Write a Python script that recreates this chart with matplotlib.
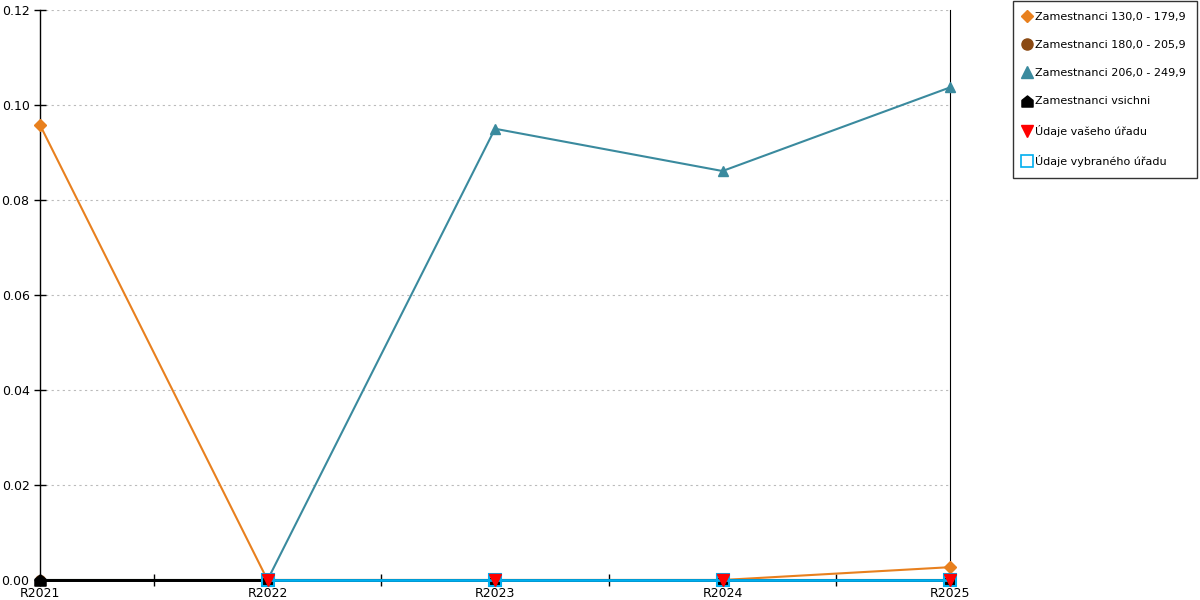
import matplotlib
matplotlib.use("Agg")
import matplotlib.pyplot as plt
from matplotlib.path import Path
from matplotlib.lines import Line2D
import numpy as np

years = ["R2021", "R2022", "R2023", "R2024", "R2025"]
s130 = [0.0958, 0.0, 0.0, 0.0, 0.0027]
s180 = [0.0, 0.0, 0.0, 0.0, 0.0]
s206 = [0.0, 0.0, 0.0950, 0.0861, 0.1037]
vsichni = [0.0, 0.0, 0.0, 0.0, 0.0]
vaseho = [None, 0.0, 0.0, 0.0, 0.0]
vybraneho = [None, 0.0, 0.0, 0.0, 0.0]

labels = ["Zamestnanci 130,0 - 179,9", "Zamestnanci 180,0 - 205,9",
          "Zamestnanci 206,0 - 249,9", "Zamestnanci vsichni",
          "Údaje vašeho úřadu", "Údaje vybraného úřadu"]

plt.rcParams['font.family'] = ['DejaVu Sans']
fig = plt.figure(figsize=(12, 6), dpi=100)
ax = fig.add_axes([40/1200, 20/600, 910/1200, 570/600])

x = np.arange(len(years))
house = Path([(-1, -1), (1, -1), (1, 0.2), (0, 1), (-1, 0.2), (-1, -1)],
             [Path.MOVETO, Path.LINETO, Path.LINETO, Path.LINETO, Path.LINETO, Path.CLOSEPOLY])

def arr(v):
    return np.array([np.nan if a is None else a for a in v], dtype=float)

ax.plot(x, arr(s130), color="#E8801E", lw=1.5, marker="D", ms=6, label=labels[0], zorder=3)
ax.plot(x, arr(s180), color="#8B4A14", lw=1.5, marker="o", ms=7, label=labels[1], zorder=2)
ax.plot(x, arr(s206), color="#3A8A9E", lw=1.5, marker="^", ms=7, label=labels[2], zorder=4)
ax.plot(x, arr(vsichni), color="black", lw=2, marker=house, ms=8, label=labels[3], zorder=5)
ax.plot(x, arr(vybraneho), color="#00AEEF", lw=2, marker="s", ms=9, mfc="none", mew=1.5,
        label=labels[5], zorder=6)
ax.plot(x, arr(vaseho), color="red", lw=0, marker="v", ms=8, label=labels[4], zorder=7)

ax.set_xlim(0, 4)
ax.set_ylim(0, 0.12)
yt = np.arange(0, 0.121, 0.02)
ax.set_yticks(yt)
ax.set_yticklabels([f"{v:.2f}" for v in yt])
ax.set_xticks(x)
ax.set_xticklabels(years)
ax.set_xticks(x[:-1] + 0.5, minor=True)
ax.tick_params(axis='both', direction='inout', length=8, width=1, labelsize=9, colors='black')
ax.tick_params(axis='x', which='minor', direction='inout', length=8, width=1)
ax.tick_params(axis='x', pad=1)
ax.yaxis.grid(True, linestyle=(0, (2, 3)), color="#BBBBBB", lw=0.8)
ax.spines["top"].set_visible(False)
ax.spines["right"].set_color("black")
ax.spines["left"].set_linewidth(1)
ax.spines["bottom"].set_linewidth(2)
ax.spines["bottom"].set_zorder(4.5)
for l in ax.lines:
    l.set_clip_on(False)

hmap = {
    labels[0]: Line2D([], [], color="#E8801E", marker="D", ms=6, lw=0),
    labels[1]: Line2D([], [], color="#8B4A14", marker="o", ms=8, lw=0),
    labels[2]: Line2D([], [], color="#3A8A9E", marker="^", ms=8, lw=0),
    labels[3]: Line2D([], [], color="black", marker=house, ms=8, lw=0),
    labels[4]: Line2D([], [], color="red", marker="v", ms=9, lw=0),
    labels[5]: Line2D([], [], color="#00AEEF", marker="s", ms=9, mfc="none", mew=1.2, lw=0),
}
leg = fig.legend([hmap[l] for l in labels], labels, loc="upper left",
                 bbox_to_anchor=(1013/1200, 1 - 1/600), frameon=True, fancybox=False,
                 edgecolor="black", fontsize=8, handlelength=0.6, handletextpad=0.4,
                 labelspacing=1.63, borderpad=1.0, borderaxespad=0)
leg.get_frame().set_linewidth(1)

fig.savefig("out.png", dpi=100)
